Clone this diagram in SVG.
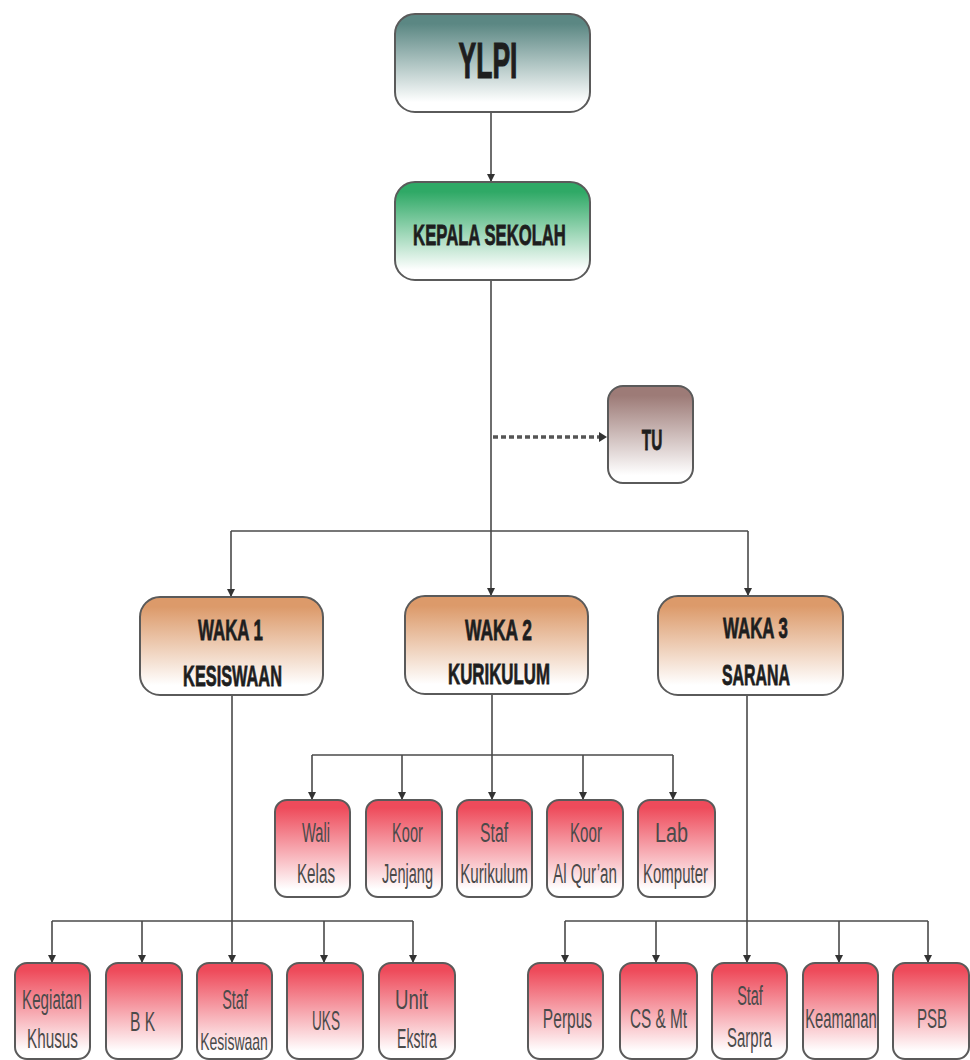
<svg xmlns="http://www.w3.org/2000/svg" width="970" height="1060" viewBox="0 0 970 1060">
<defs>
<linearGradient id="gY" x1="0" y1="0" x2="0" y2="1"><stop offset="0.1" stop-color="#5b8783"/><stop offset="0.9" stop-color="#ffffff"/></linearGradient>
<linearGradient id="gK" x1="0" y1="0" x2="0" y2="1"><stop offset="0.1" stop-color="#2fa966"/><stop offset="0.9" stop-color="#ffffff"/></linearGradient>
<linearGradient id="gT" x1="0" y1="0" x2="0" y2="1"><stop offset="0.1" stop-color="#9d7b77"/><stop offset="0.92" stop-color="#ffffff"/></linearGradient>
<linearGradient id="gW" x1="0" y1="0" x2="0" y2="1"><stop offset="0.1" stop-color="#dc9a6a"/><stop offset="0.9" stop-color="#ffffff"/></linearGradient>
<linearGradient id="gR" x1="0" y1="0" x2="0" y2="1"><stop offset="0.08" stop-color="#ee4b5b"/><stop offset="0.92" stop-color="#ffffff"/></linearGradient>
<marker id="arr" markerWidth="8" markerHeight="10" refX="7" refY="4" orient="auto" markerUnits="userSpaceOnUse" viewBox="0 0 8 8">
<path d="M0,0 L8,4 L0,8 Z" fill="#333"/>
</marker>
</defs>
<style>
.box{stroke:#5a5a5a;stroke-width:2}
.hd{font-family:"Liberation Sans",Arial,sans-serif;font-weight:bold;fill:#1e1e1e;stroke:#1e1e1e;stroke-width:0.8;font-size:30px}
.big{font-size:50px;stroke-width:1.2}
.sm{font-family:"Liberation Sans",Arial,sans-serif;fill:#4a4a4a;font-size:27px}
.smaller{font-size:24px}
.ln{fill:none;stroke:#4a4a4a;stroke-width:1.6}
.dash{fill:none;stroke:#555;stroke-width:3.5;stroke-dasharray:5,3}
</style>
<rect width="970" height="1060" fill="#ffffff"/>

<g id="connectors">
<line class="ln" x1="491" y1="112" x2="491" y2="181" marker-end="url(#arr)"/>
<line class="ln" x1="491" y1="280" x2="491" y2="595" marker-end="url(#arr)"/>
<line class="dash" x1="493" y1="437" x2="600" y2="437"/>
<path d="M599,432 L607,437 L599,442 Z" fill="#333"/>
<line class="ln" x1="231" y1="531" x2="748" y2="531"/>
<line class="ln" x1="231" y1="531" x2="231" y2="596" marker-end="url(#arr)"/>
<line class="ln" x1="748" y1="531" x2="748" y2="595" marker-end="url(#arr)"/>

<line class="ln" x1="232" y1="695" x2="232" y2="962" marker-end="url(#arr)"/>
<line class="ln" x1="52" y1="921" x2="413" y2="921"/>
<line class="ln" x1="52" y1="921" x2="52" y2="962" marker-end="url(#arr)"/>
<line class="ln" x1="142" y1="921" x2="142" y2="962" marker-end="url(#arr)"/>
<line class="ln" x1="324" y1="921" x2="324" y2="962" marker-end="url(#arr)"/>
<line class="ln" x1="413" y1="921" x2="413" y2="962" marker-end="url(#arr)"/>

<line class="ln" x1="492" y1="694" x2="492" y2="799" marker-end="url(#arr)"/>
<line class="ln" x1="312" y1="755" x2="673" y2="755"/>
<line class="ln" x1="312" y1="755" x2="312" y2="799" marker-end="url(#arr)"/>
<line class="ln" x1="402" y1="755" x2="402" y2="799" marker-end="url(#arr)"/>
<line class="ln" x1="583" y1="755" x2="583" y2="799" marker-end="url(#arr)"/>
<line class="ln" x1="673" y1="755" x2="673" y2="799" marker-end="url(#arr)"/>

<line class="ln" x1="747" y1="695" x2="747" y2="962" marker-end="url(#arr)"/>
<line class="ln" x1="565" y1="921" x2="928" y2="921"/>
<line class="ln" x1="565" y1="921" x2="565" y2="962" marker-end="url(#arr)"/>
<line class="ln" x1="656" y1="921" x2="656" y2="962" marker-end="url(#arr)"/>
<line class="ln" x1="839" y1="921" x2="839" y2="962" marker-end="url(#arr)"/>
<line class="ln" x1="928" y1="921" x2="928" y2="962" marker-end="url(#arr)"/>
</g>

<g id="ylpi">
<rect class="box" x="395" y="14" width="195" height="98" rx="20" fill="url(#gY)"/>
<text class="hd big" transform="translate(488,78) scale(0.53,1)" text-anchor="middle" textLength="111" lengthAdjust="spacingAndGlyphs">YLPI</text>
</g>
<g id="kepala">
<rect class="box" x="395" y="182" width="195" height="98" rx="20" fill="url(#gK)"/>
<text class="hd" transform="translate(489.5,245) scale(0.54,1)" text-anchor="middle" textLength="283" lengthAdjust="spacingAndGlyphs">KEPALA SEKOLAH</text>
</g>
<g id="tu">
<rect class="box" x="608" y="386" width="85" height="97" rx="15" fill="url(#gT)"/>
<text class="hd" transform="translate(652,450) scale(0.54,1)" text-anchor="middle" textLength="38" lengthAdjust="spacingAndGlyphs">TU</text>
</g>

<g id="waka1">
<rect class="box" x="140" y="597" width="183" height="98" rx="20" fill="url(#gW)"/>
<text class="hd" transform="translate(230.5,640) scale(0.54,1)" text-anchor="middle" textLength="120" lengthAdjust="spacingAndGlyphs">WAKA 1</text>
<text class="hd" transform="translate(232.5,686) scale(0.54,1)" text-anchor="middle" textLength="183" lengthAdjust="spacingAndGlyphs">KESISWAAN</text>
</g>
<g id="waka2">
<rect class="box" x="405" y="596" width="183" height="98" rx="20" fill="url(#gW)"/>
<text class="hd" transform="translate(498.5,640) scale(0.54,1)" text-anchor="middle" textLength="124" lengthAdjust="spacingAndGlyphs">WAKA 2</text>
<text class="hd" transform="translate(499,684) scale(0.54,1)" text-anchor="middle" textLength="189" lengthAdjust="spacingAndGlyphs">KURIKULUM</text>
</g>
<g id="waka3">
<rect class="box" x="658" y="596" width="185" height="99" rx="20" fill="url(#gW)"/>
<text class="hd" transform="translate(755.5,638) scale(0.54,1)" text-anchor="middle" textLength="120" lengthAdjust="spacingAndGlyphs">WAKA 3</text>
<text class="hd" transform="translate(756,685) scale(0.54,1)" text-anchor="middle" textLength="126" lengthAdjust="spacingAndGlyphs">SARANA</text>
</g>

<g id="wali-kelas">
<rect class="box" x="275" y="800" width="75" height="97" rx="12" fill="url(#gR)"/>
<text class="sm" transform="translate(316,842) scale(0.56,1)" text-anchor="middle" textLength="50" lengthAdjust="spacingAndGlyphs">Wali</text>
<text class="sm" transform="translate(316,883) scale(0.56,1)" text-anchor="middle" textLength="68" lengthAdjust="spacingAndGlyphs">Kelas</text>
</g>
<g id="koor-jenjang">
<rect class="box" x="366" y="800" width="76" height="97" rx="12" fill="url(#gR)"/>
<text class="sm" transform="translate(407.5,842) scale(0.56,1)" text-anchor="middle" textLength="55" lengthAdjust="spacingAndGlyphs">Koor</text>
<text class="sm" transform="translate(407.5,883) scale(0.56,1)" text-anchor="middle" textLength="91" lengthAdjust="spacingAndGlyphs">Jenjang</text>
</g>
<g id="staf-kurikulum">
<rect class="box" x="457" y="800" width="75" height="97" rx="12" fill="url(#gR)"/>
<text class="sm" transform="translate(494,842) scale(0.56,1)" text-anchor="middle" textLength="50" lengthAdjust="spacingAndGlyphs">Staf</text>
<text class="sm" transform="translate(494,883) scale(0.56,1)" text-anchor="middle" textLength="121" lengthAdjust="spacingAndGlyphs">Kurikulum</text>
</g>
<g id="koor-alquran">
<rect class="box" x="547" y="800" width="76" height="97" rx="12" fill="url(#gR)"/>
<text class="sm" transform="translate(586,842) scale(0.56,1)" text-anchor="middle" textLength="57" lengthAdjust="spacingAndGlyphs">Koor</text>
<text class="sm" transform="translate(585,883) scale(0.56,1)" text-anchor="middle" textLength="114" lengthAdjust="spacingAndGlyphs">Al Qur’an</text>
</g>
<g id="lab-komputer">
<rect class="box" x="638" y="800" width="77" height="97" rx="12" fill="url(#gR)"/>
<text class="sm" transform="translate(671.5,842) scale(0.56,1)" text-anchor="middle" textLength="59" lengthAdjust="spacingAndGlyphs">Lab</text>
<text class="sm" transform="translate(675.5,883) scale(0.56,1)" text-anchor="middle" textLength="116" lengthAdjust="spacingAndGlyphs">Komputer</text>
</g>

<g id="kegiatan-khusus">
<rect class="box" x="15" y="963" width="75" height="96" rx="12" fill="url(#gR)"/>
<text class="sm" transform="translate(52,1009) scale(0.56,1)" text-anchor="middle" textLength="107" lengthAdjust="spacingAndGlyphs">Kegiatan</text>
<text class="sm" transform="translate(52.5,1048) scale(0.56,1)" text-anchor="middle" textLength="91" lengthAdjust="spacingAndGlyphs">Khusus</text>
</g>
<g id="bk">
<rect class="box" x="106" y="963" width="76" height="96" rx="12" fill="url(#gR)"/>
<text class="sm" transform="translate(142.5,1031) scale(0.56,1)" text-anchor="middle" textLength="45" lengthAdjust="spacingAndGlyphs">B K</text>
</g>
<g id="staf-kesiswaan">
<rect class="box" x="197" y="963" width="75" height="96" rx="12" fill="url(#gR)"/>
<text class="sm" transform="translate(235,1009) scale(0.56,1)" text-anchor="middle" textLength="46" lengthAdjust="spacingAndGlyphs">Staf</text>
<text class="sm smaller" transform="translate(234,1050) scale(0.56,1)" text-anchor="middle" textLength="121" lengthAdjust="spacingAndGlyphs">Kesiswaan</text>
</g>
<g id="uks">
<rect class="box" x="287" y="963" width="76" height="96" rx="12" fill="url(#gR)"/>
<text class="sm" transform="translate(326,1030) scale(0.56,1)" text-anchor="middle" textLength="50" lengthAdjust="spacingAndGlyphs">UKS</text>
</g>
<g id="unit-ekstra">
<rect class="box" x="379" y="963" width="76" height="96" rx="12" fill="url(#gR)"/>
<text class="sm" transform="translate(411.5,1009) scale(0.56,1)" text-anchor="middle" textLength="59" lengthAdjust="spacingAndGlyphs">Unit</text>
<text class="sm" transform="translate(417,1048) scale(0.56,1)" text-anchor="middle" textLength="71" lengthAdjust="spacingAndGlyphs">Ekstra</text>
</g>

<g id="perpus">
<rect class="box" x="528" y="963" width="75" height="96" rx="12" fill="url(#gR)"/>
<text class="sm" transform="translate(567.5,1028) scale(0.56,1)" text-anchor="middle" textLength="88" lengthAdjust="spacingAndGlyphs">Perpus</text>
</g>
<g id="cs-mt">
<rect class="box" x="620" y="963" width="77" height="96" rx="12" fill="url(#gR)"/>
<text class="sm" transform="translate(658.5,1028) scale(0.56,1)" text-anchor="middle" textLength="102" lengthAdjust="spacingAndGlyphs">CS &amp; Mt</text>
</g>
<g id="staf-sarpra">
<rect class="box" x="712" y="963" width="75" height="96" rx="12" fill="url(#gR)"/>
<text class="sm" transform="translate(750,1005) scale(0.56,1)" text-anchor="middle" textLength="46" lengthAdjust="spacingAndGlyphs">Staf</text>
<text class="sm" transform="translate(749.5,1047) scale(0.56,1)" text-anchor="middle" textLength="80" lengthAdjust="spacingAndGlyphs">Sarpra</text>
</g>
<g id="keamanan">
<rect class="box" x="803" y="963" width="75" height="96" rx="12" fill="url(#gR)"/>
<text class="sm" transform="translate(841,1028) scale(0.56,1)" text-anchor="middle" textLength="128" lengthAdjust="spacingAndGlyphs">Keamanan</text>
</g>
<g id="psb">
<rect class="box" x="893" y="963" width="76" height="96" rx="12" fill="url(#gR)"/>
<text class="sm" transform="translate(932,1028) scale(0.56,1)" text-anchor="middle" textLength="54" lengthAdjust="spacingAndGlyphs">PSB</text>
</g>
</svg>
